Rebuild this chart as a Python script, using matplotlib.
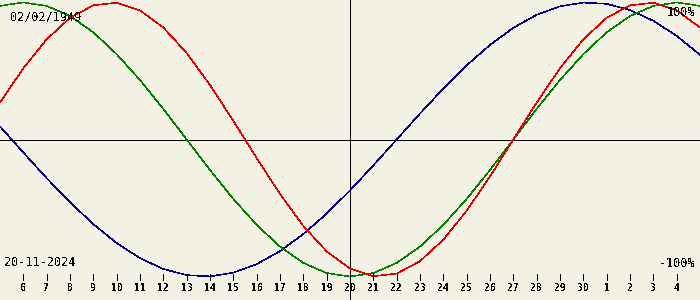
import numpy as np
import matplotlib.pyplot as plt

plt.rcParams['text.antialiased'] = False

# Tage 5. Nov .. 5. Dez (Dez als 31..35 weitergezaehlt)
days = np.arange(5, 36)

physical = [0.270, 0.520, 0.731, 0.888, 0.979, 0.998, 0.942, 0.817, 0.631, 0.398,
            0.136, -0.136, -0.398, -0.631, -0.817, -0.942, -0.998, -0.979, -0.888,
            -0.731, -0.520, -0.270, 0.000, 0.270, 0.520, 0.731, 0.888, 0.979, 0.998,
            0.942, 0.817]
emotional = [0.975, 1.000, 0.975, 0.901, 0.782, 0.623, 0.434, 0.223, 0.000, -0.223,
             -0.434, -0.623, -0.782, -0.901, -0.975, -1.000, -0.975, -0.901, -0.782,
             -0.623, -0.434, -0.223, 0.000, 0.223, 0.434, 0.623, 0.782, 0.901, 0.975,
             1.000, 0.975]
intellectual = [0.095, -0.095, -0.282, -0.458, -0.618, -0.756, -0.866, -0.945, -0.990,
                -0.999, -0.972, -0.910, -0.815, -0.690, -0.541, -0.372, -0.189, 0.000,
                0.189, 0.372, 0.541, 0.690, 0.815, 0.910, 0.972, 0.999, 0.990, 0.945,
                0.866, 0.756, 0.618]

tick_days = list(range(6, 35))
tick_labels = [str(d) for d in range(6, 31)] + ['1', '2', '3', '4']
today = 20

lw = 0.6  # ca. 1 Pixel

fig = plt.figure(figsize=(7, 3), dpi=100, facecolor='#f3f0e4')
ax = fig.add_axes([0, 0, 1, 1])
ax.set_facecolor('#f3f0e4')
ax.set_xlim(5, 35)
ax.set_ylim(-1.1715, 1.018)
ax.axis('off')

ax.axhline(-0.004, color='black', lw=lw, antialiased=False)
ax.axvline(today, color='black', lw=lw, antialiased=False)

ax.plot(days, intellectual, color='#000080', lw=0.4, antialiased=False)
ax.plot(days, emotional, color='#008000', lw=0.4, antialiased=False)
ax.plot(days, physical, color='#e00000', lw=0.4, antialiased=False)

for d, lab in zip(tick_days, tick_labels):
    ax.plot([d, d], [-0.982, -1.026], color='black', lw=lw, antialiased=False)
    ax.text(d, -1.084, lab, ha='center', va='center', fontsize=7,
            family='DejaVu Sans Mono', fontweight='bold')

mono = dict(family='DejaVu Sans Mono', fontsize=8.5, va='center')
ax.text(0.014, 0.944, '02/02/1949', transform=ax.transAxes, ha='left', **mono)
ax.text(0.993, 0.96, '100%', transform=ax.transAxes, ha='right', **mono)
ax.text(0.006, 0.125, '20-11-2024', transform=ax.transAxes, ha='left', **mono)
ax.text(0.993, 0.123, '-100%', transform=ax.transAxes, ha='right', **mono)

fig.savefig('out.png', dpi=100, facecolor=fig.get_facecolor())
